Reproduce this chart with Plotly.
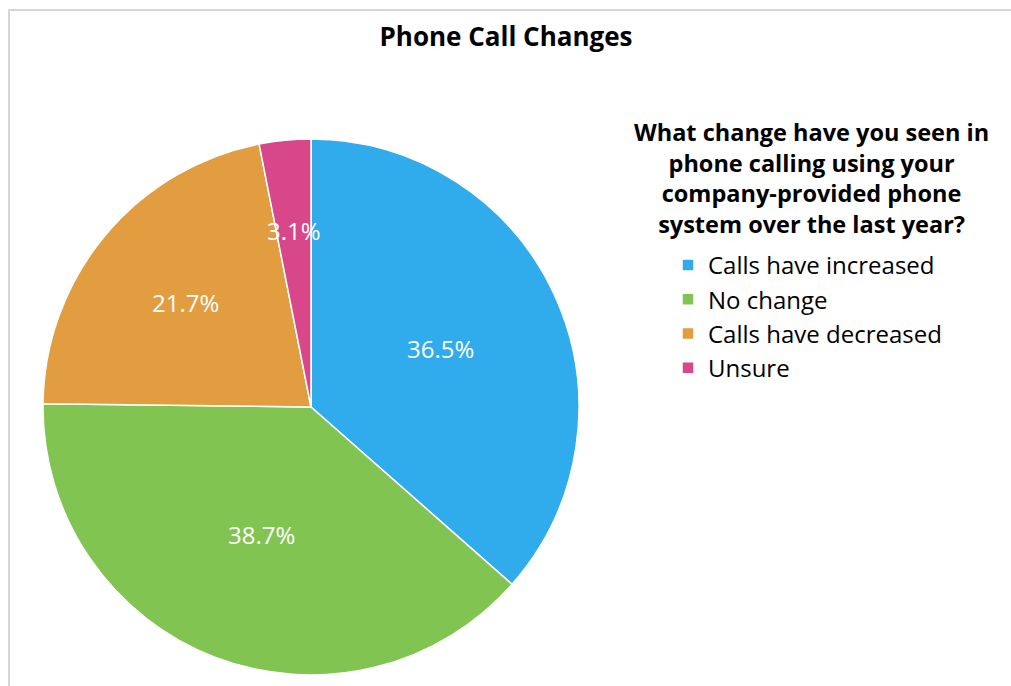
import math
import plotly.graph_objects as go

# ---- data ----
categories = ["Calls have increased", "No change", "Calls have decreased", "Unsure"]
values = [36.5, 38.7, 21.7, 3.1]
colors = ["#30ABEB", "#82C452", "#E29D40", "#D8478A"]
chart_title = "Phone Call Changes"
legend_heading = ("What change have you seen in<br>phone calling using your<br>"
                  "company-provided phone<br>system over the last year?")

# ---- layout constants ----
W, H = 1011, 686
FONT = "'Open Sans', Lato, sans-serif"
pie_cx_px, pie_cy_px, pie_r_px = 311, 407, 268
dom_x = [(pie_cx_px - pie_r_px) / W, (pie_cx_px + pie_r_px) / W]
dom_y = [1 - (pie_cy_px + pie_r_px) / H, 1 - (pie_cy_px - pie_r_px) / H]
label_radius = [0.53, 0.51, 0.61, 0.66]

fig = go.Figure()
fig.add_trace(go.Pie(
    labels=categories,
    values=values,
    sort=False,
    direction="clockwise",
    rotation=0,
    marker=dict(colors=colors, line=dict(color="white", width=1.5)),
    textinfo="none",
    hoverinfo="label+percent",
    domain=dict(x=dom_x, y=dom_y),
    showlegend=True,
))

# data labels placed at the angular middle of each slice
total = sum(values)
cum = 0.0
annotations = []
for v, rf in zip(values, label_radius):
    mid = (cum + v / 2) / total * 2 * math.pi
    cum += v
    x = (pie_cx_px + pie_r_px * rf * math.sin(mid)) / W
    y = 1 - (pie_cy_px - pie_r_px * rf * math.cos(mid)) / H
    annotations.append(dict(
        x=x, y=y, xref="paper", yref="paper", showarrow=False,
        text=f"{v:.1f}%", font=dict(family=FONT, size=24, color="white"),
        xanchor="center", yanchor="middle",
    ))

annotations.append(dict(
    x=811 / W, y=1 - 114 / H, xref="paper", yref="paper", showarrow=False,
    text=f"<b>{legend_heading}</b>", align="center",
    font=dict(family=FONT, size=23.5, color="black"),
    xanchor="center", yanchor="top",
))

fig.update_layout(
    width=W, height=H,
    margin=dict(l=0, r=0, t=0, b=0),
    paper_bgcolor="white",
    plot_bgcolor="white",
    title=dict(text=f"<b>{chart_title}</b>", x=506 / W, xanchor="center",
               y=1 - 37 / H, yanchor="middle",
               font=dict(family=FONT, size=26, color="black")),
    legend=dict(x=668 / W, xanchor="left", y=1 - 243 / H, yanchor="top",
                font=dict(family=FONT, size=24, color="black"),
                bgcolor="rgba(0,0,0,0)", traceorder="normal"),
    annotations=annotations,
    shapes=[dict(type="rect", xref="paper", yref="paper",
                 x0=9 / W, x1=1.05, y0=-0.05, y1=1 - 10 / H,
                 line=dict(color="#D6D6D6", width=2), layer="below")],
)

fig.write_html("out.html", config={"displayModeBar": False},
               post_script="document.body.style.margin='0';")
